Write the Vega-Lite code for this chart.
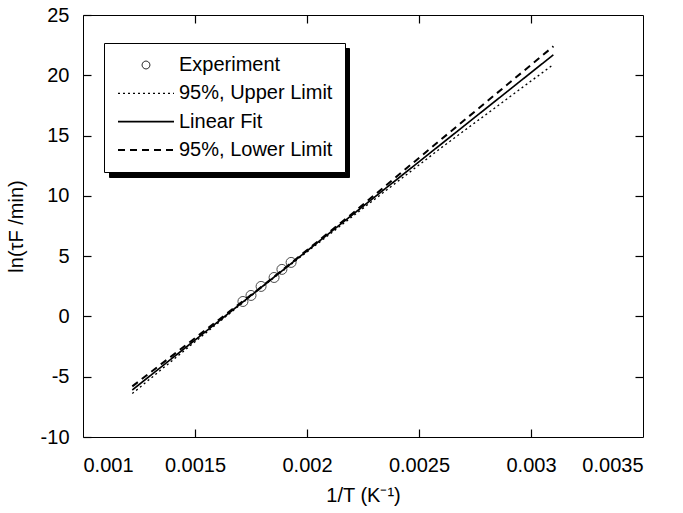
{
  "$schema": "https://vega.github.io/schema/vega-lite/v6.json",
  "width": 560,
  "height": 422,
  "autosize": "none",
  "padding": {"left": 83, "top": 15, "right": 40, "bottom": 76},
  "config": {
    "font": "Liberation Sans",
    "view": {"stroke": "black", "strokeWidth": 1},
    "axis": {
      "domain": false, "labelColor": "black", "titleColor": "black", "tickColor": "black", "tickWidth": 1.2, "tickSize": 8,
      "grid": false, "labelFontSize": 20, "titleFontSize": 20, "titleFontWeight": "normal"
    }
  },
  "datasets": {
    "lines": [
      {"x": 0.00122, "y": -6.1, "series": "Linear Fit"},
      {"x": 0.0031, "y": 21.7, "series": "Linear Fit"},
      {"x": 0.00122, "y": -5.8, "series": "95%, Lower Limit"},
      {"x": 0.0015, "y": -1.8, "series": "95%, Lower Limit"},
      {"x": 0.0018, "y": 2.5, "series": "95%, Lower Limit"},
      {"x": 0.0022, "y": 8.5, "series": "95%, Lower Limit"},
      {"x": 0.0026, "y": 14.7, "series": "95%, Lower Limit"},
      {"x": 0.0031, "y": 22.4, "series": "95%, Lower Limit"},
      {"x": 0.00122, "y": -6.4, "series": "95%, Upper Limit"},
      {"x": 0.0015, "y": -2.1, "series": "95%, Upper Limit"},
      {"x": 0.0018, "y": 2.45, "series": "95%, Upper Limit"},
      {"x": 0.0022, "y": 8.25, "series": "95%, Upper Limit"},
      {"x": 0.0026, "y": 14.0, "series": "95%, Upper Limit"},
      {"x": 0.0031, "y": 20.9, "series": "95%, Upper Limit"}
    ],
    "points": [
      {"x": 0.001714, "y": 1.24, "series": "Experiment"},
      {"x": 0.00175, "y": 1.74, "series": "Experiment"},
      {"x": 0.001795, "y": 2.49, "series": "Experiment"},
      {"x": 0.001853, "y": 3.23, "series": "Experiment"},
      {"x": 0.001888, "y": 3.9, "series": "Experiment"},
      {"x": 0.001929, "y": 4.48, "series": "Experiment"}
    ]
  },
  "layer": [
    {
      "data": {"name": "points"},
      "mark": {"type": "point", "shape": "circle", "filled": false, "color": "black", "size": 100, "strokeWidth": 1},
      "encoding": {
        "x": {"field": "x", "type": "quantitative", "scale": {"domain": [0.001, 0.0035], "nice": false, "zero": false},
              "axis": {"orient": "bottom", "ticks": false, "title": "1/T (K⁻¹)", "values": [0.001, 0.0015, 0.002, 0.0025, 0.003, 0.0035], "format": ".4~f", "labelPadding": 18, "titlePadding": 10}},
        "y": {"field": "y", "type": "quantitative", "scale": {"domain": [-10, 25], "nice": false, "zero": false},
              "axis": {"orient": "left", "ticks": false, "title": "ln(τF /min)", "values": [-10, -5, 0, 5, 10, 15, 20, 25], "labelExpr": "'' + datum.value", "labelPadding": 14, "titlePadding": 14}}
      }
    },
    {
      "data": {"name": "lines"},
      "mark": {"type": "point", "opacity": 0},
      "encoding": {
        "x": {"field": "x", "type": "quantitative",
              "axis": {"orient": "bottom", "offset": -422, "labels": false, "title": null, "values": [0.0015, 0.002, 0.0025, 0.003]}},
        "y": {"field": "y", "type": "quantitative",
              "axis": {"orient": "left", "offset": -560, "labels": false, "title": null, "values": [-5, 0, 5, 10, 15, 20]}},
        "shape": {
          "field": "series", "type": "nominal",
          "scale": {"domain": ["95%, Upper Limit", "Experiment", "Linear Fit", "95%, Lower Limit"], "range": ["circle", "circle", "circle", "circle"]},
          "legend": {
            "orient": "none", "legendX": 26, "legendY": 33, "title": null, "zindex": 1,
            "strokeColor": "black", "fillColor": "black", "padding": 12,
            "labelFontSize": 20, "labelFont": "Liberation Sans", "labelColor": "black", "labelExpr": "''",
            "symbolSize": 196, "symbolOpacity": 0, "symbolStrokeWidth": 1.5,
            "rowPadding": 8.3, "labelOffset": 176, "symbolOffset": 20
          }
        }
      }
    },
    {
      "data": {"name": "lines"},
      "mark": {"type": "line"},
      "encoding": {
        "x": {"field": "x", "type": "quantitative",
              "axis": {"orient": "top", "offset": -422, "labels": false, "title": null, "values": [0.0015, 0.002, 0.0025, 0.003]}},
        "y": {"field": "y", "type": "quantitative",
              "axis": {"orient": "right", "offset": -560, "labels": false, "title": null, "values": [-10, -5, 0, 5, 10, 15, 20, 25]}},
        "color": {
          "field": "series", "type": "nominal",
          "scale": {"domain": ["Experiment", "95%, Upper Limit", "Linear Fit", "95%, Lower Limit"], "range": ["black", "black", "black", "black"]},
          "legend": {
            "orient": "none", "legendX": 21, "legendY": 28, "title": null, "zindex": 2,
            "strokeColor": "black", "fillColor": "white", "padding": 12,
            "labelFontSize": 20, "labelFont": "Liberation Sans", "labelColor": "black",
            "symbolType": "M-4,0H4", "symbolSize": 196, "symbolStrokeColor": "black", "symbolStrokeWidth": 1.5,
            "rowPadding": 8.3, "labelOffset": 23, "symbolOffset": 20,
            "encode": {"symbols": {"update": {
              "shape": {"signal": "datum.value === 'Experiment' ? 'circle' : 'M-4,0H4'"},
              "size": {"signal": "datum.value === 'Experiment' ? 60 : 196"},
              "strokeWidth": {"signal": "datum.value === 'Linear Fit' ? 2.5 : 1.5"},
              "strokeDash": {"signal": "datum.value === '95%, Upper Limit' ? [2, 3] : datum.value === '95%, Lower Limit' ? [6, 5] : [1, 0]"},
              "stroke": {"value": "black"},
              "fill": {"value": "transparent"}
            }}}
          }
        },
        "strokeDash": {
          "field": "series", "type": "nominal",
          "scale": {"domain": ["Experiment", "95%, Upper Limit", "Linear Fit", "95%, Lower Limit"], "range": [[1, 0], [2, 3], [1, 0], [7, 5]]},
          "legend": null
        },
        "strokeWidth": {
          "field": "series", "type": "nominal",
          "scale": {"domain": ["Experiment", "95%, Upper Limit", "Linear Fit", "95%, Lower Limit"], "range": [1, 2, 2.8, 1.8]},
          "legend": null
        }
      }
    }
  ],
  "resolve": {"axis": {"x": "independent", "y": "independent"}}
}
